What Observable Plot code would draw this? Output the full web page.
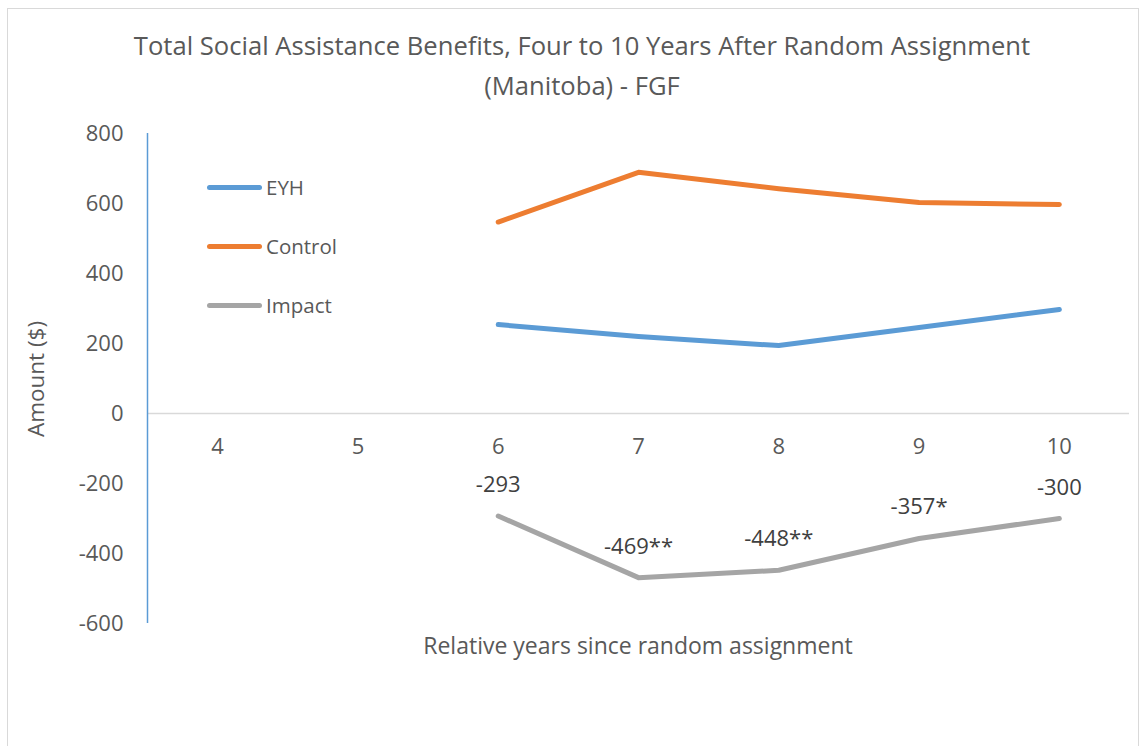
<!DOCTYPE html>
<html><head><meta charset="utf-8">
<script src="https://cdn.jsdelivr.net/npm/d3@7"></script>
<script src="https://cdn.jsdelivr.net/npm/@observablehq/plot@0.6"></script>
<style>
body{margin:0;background:#fff;font-family:"Open Sans",sans-serif;}
#wrap{position:relative;width:1145px;height:746px;overflow:hidden;}
#border{position:absolute;left:7px;top:8px;width:1130px;height:780px;border:1px solid #d9d9d9;}
#title{position:absolute;left:0;top:26px;width:1164px;text-align:center;color:#595959;font-size:25.6px;line-height:40px;}
#ytitle{position:absolute;left:35px;top:379px;transform:translate(-50%,-50%) rotate(-90deg);color:#595959;font-size:22.5px;white-space:nowrap;}
#xtitle{position:absolute;left:638px;top:645px;transform:translate(-50%,-50%);color:#595959;font-size:23px;white-space:nowrap;}
#legend{position:absolute;left:207px;top:0;}
.li{position:absolute;left:0;height:30px;display:flex;align-items:center;white-space:nowrap;transform:translateY(-50%);}
.sw{width:55px;height:5px;border-radius:3px;margin-right:4px;}
.lt{color:#595959;font-size:20.5px;}
svg{position:absolute;left:0;top:0;}
</style></head>
<body><div id="wrap"><div id="border"></div><div id="chart"></div>
<div id="title">Total Social Assistance Benefits, Four to 10 Years After Random Assignment<br>(Manitoba) - FGF</div>
<div id="ytitle">Amount ($)</div>
<div id="xtitle">Relative years since random assignment</div>
<div id="legend"></div>
</div>
<script>
const years = [6, 7, 8, 9, 10];
const eyh = [254, 220, 194, 246, 297];
const control = [547, 689, 642, 603, 597];
const impact = [-293, -469, -448, -357, -300];
const impactLabels = ["-293", "-469**", "-448**", "-357*", "-300"];
const xTicks = [4, 5, 6, 7, 8, 9, 10];
const yTicks = [-600, -400, -200, 0, 200, 400, 600, 800];
const seriesNames = ["EYH", "Control", "Impact"];
const seriesColors = ["#5b9bd5", "#ed7d31", "#a5a5a5"];

const seriesValues = [eyh, control, impact];
const rows = [];
seriesNames.forEach((s, i) => years.forEach((yr, j) => rows.push({series: s, year: yr, value: seriesValues[i][j]})));
const labelRows = years.map((yr, j) => ({year: yr, value: impact[j], label: impactLabels[j]}));

const chart = Plot.plot({
  width: 1145, height: 746,
  marginLeft: 147, marginRight: 16, marginTop: 133, marginBottom: 123,
  x: {domain: [3.5, 10.5], axis: null},
  y: {domain: [-600, 800], axis: null},
  color: {domain: seriesNames, range: seriesColors},
  style: {fontFamily: "Open Sans, sans-serif", color: "#595959", background: "transparent"},
  marks: [
    Plot.ruleY([0], {x1: 3.5, x2: 10.5, stroke: "#d9d9d9", strokeWidth: 1.5}),
    Plot.ruleX([3.5], {y1: -600, y2: 800, stroke: "#5b9bd5", strokeWidth: 1.5}),
    Plot.axisY(yTicks, {tickSize: 0, tickPadding: 24, fontSize: 22, fill: "#595959", label: null, tickFormat: d => String(d)}),
    Plot.text(xTicks, {x: d => d, y: 0, dy: 33, text: d => String(d), fontSize: 22, fill: "#595959"}),
    Plot.line(rows, {x: "year", y: "value", z: "series", stroke: "series", strokeWidth: 5, strokeLinecap: "round", strokeLinejoin: "round"}),
    Plot.text(labelRows, {x: "year", y: "value", text: "label", dy: -31, fontSize: 22, fill: "#404040"})
  ]
});
document.getElementById("chart").appendChild(chart);

const legendY = [187, 246, 305];
const legend = document.getElementById("legend");
seriesNames.forEach((s, i) => {
  const d = document.createElement("div");
  d.className = "li";
  d.style.top = legendY[i] + "px";
  d.innerHTML = `<div class="sw" style="background:${seriesColors[i]}"></div><span class="lt">${s}</span>`;
  legend.appendChild(d);
});
</script>
</body></html>
